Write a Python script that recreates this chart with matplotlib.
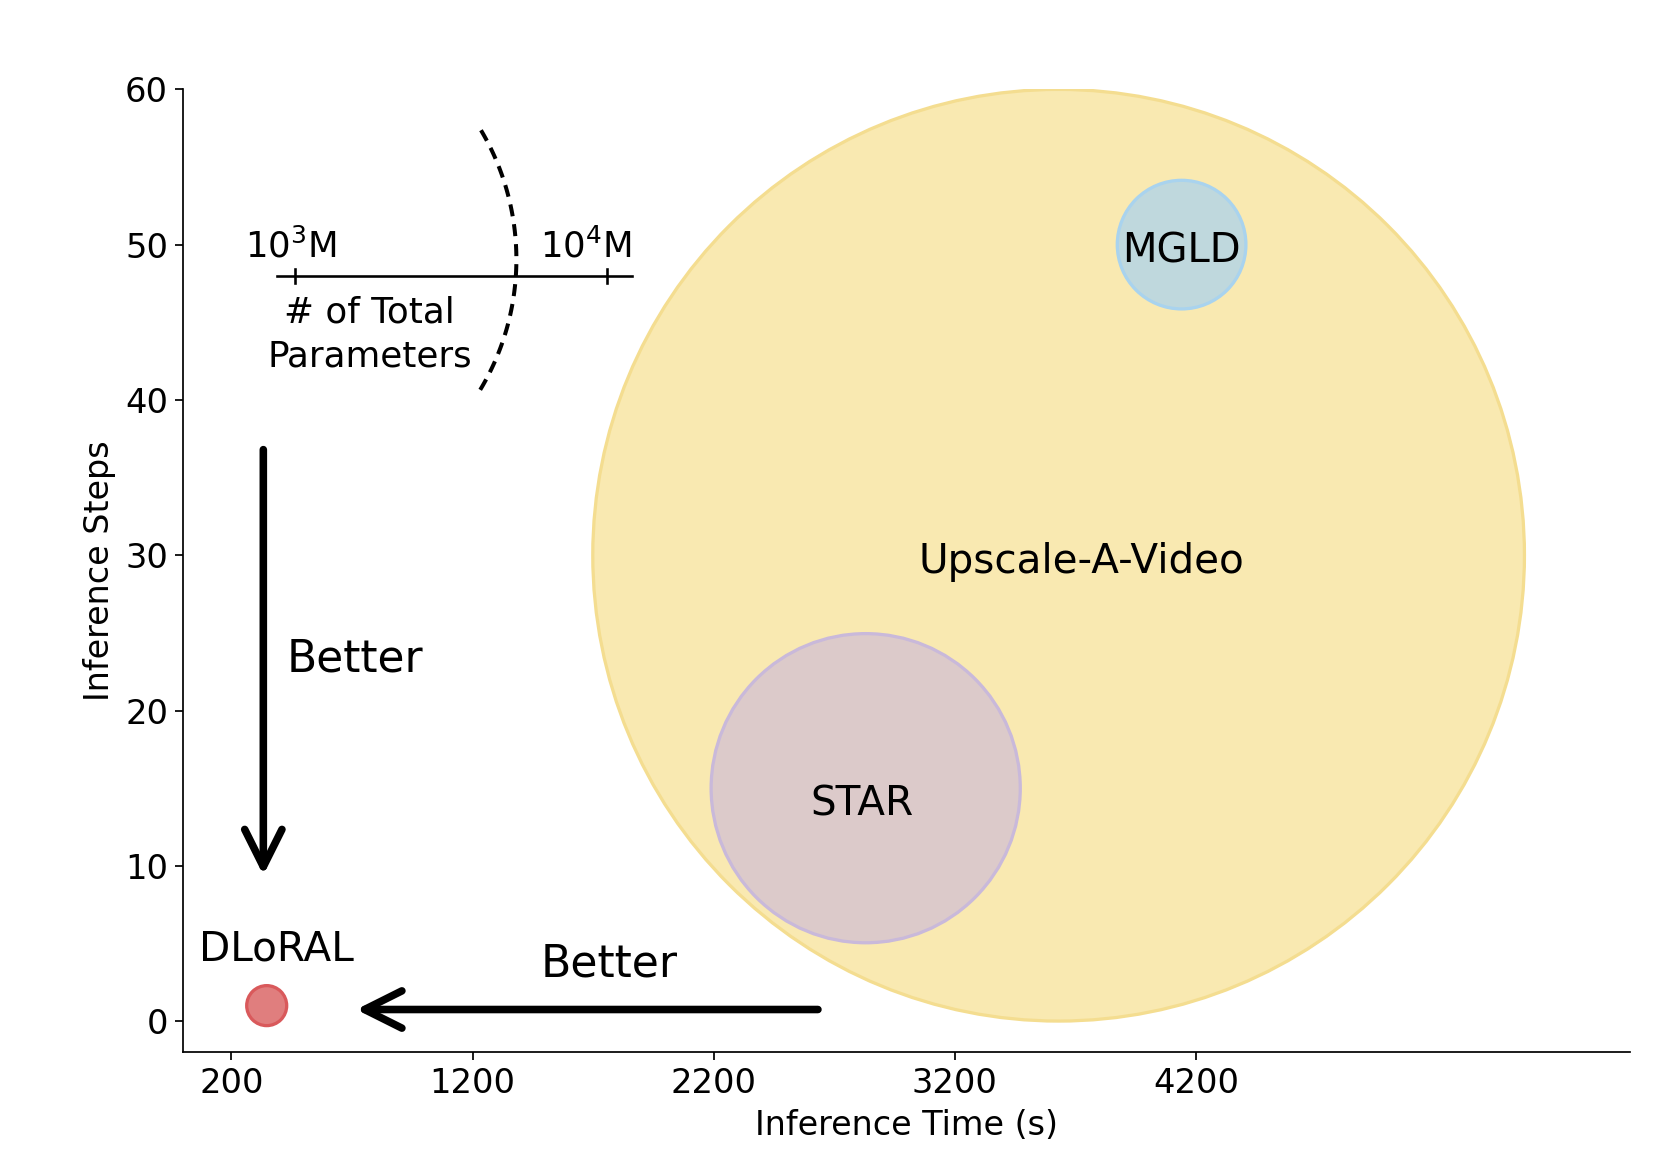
import numpy as np
import matplotlib
matplotlib.use('Agg')
import matplotlib.pyplot as plt
import matplotlib.transforms as mtransforms
from matplotlib.lines import Line2D

# data
methods = ['Upscale-A-Video', 'STAR', 'MGLD', 'DLoRAL']
inference_time = [3630, 2830, 4140, 346]      # seconds
inference_steps = [30, 15, 50, 1]
bubble_size = [184900, 20360, 3525, 341]       # marker area, ~ # of total parameters
face_colors = ['#F9E9B1', '#DCCACA', '#BFD8DD', '#E07E7E']
edge_colors = ['#F4DD90', '#C9B9DA', '#A9D3EE', '#D9595B']

x_ticks = [200, 1200, 2200, 3200, 4200]
y_ticks = [0, 10, 20, 30, 40, 50, 60]

fig = plt.figure(figsize=(1660 / 156, 1169 / 156), dpi=156)
ax = fig.add_axes([0.1104, 0.0999, 0.8716, 0.8237])

ax.scatter(inference_time, inference_steps, s=bubble_size, c=face_colors,
           edgecolors=edge_colors, linewidths=1.5, zorder=2)

# method names
ax.text(3723, 28.83, 'Upscale-A-Video', fontsize=18.7, ha='center', va='baseline', zorder=3)
ax.text(2814, 13.27, 'STAR', fontsize=18.7, ha='center', va='baseline', zorder=3)
ax.text(4140, 48.83, 'MGLD', fontsize=18.5, ha='center', va='baseline', zorder=3)
ax.text(386, 3.92, 'DLoRAL', fontsize=18.7, ha='center', va='baseline', zorder=3)

# "Better" arrows
arrow_kw = dict(arrowstyle='->', lw=3.5, color='black', mutation_scale=43,
                shrinkA=0, shrinkB=0)
ax.annotate('', xy=(332, 9.4), xytext=(332, 36.8), arrowprops=arrow_kw, zorder=4)
ax.annotate('', xy=(717, 0.75), xytext=(2632, 0.75), arrowprops=arrow_kw, zorder=4)
ax.text(428, 22.5, 'Better', fontsize=20.3, ha='left', va='baseline')
ax.text(1765, 2.86, 'Better', fontsize=20.4, ha='center', va='baseline')

# size legend: # of total parameters
ax.plot([388, 1862], [48, 48], color='black', lw=1.2)
for xt in [462, 1756]:
    ax.plot([xt, xt], [47.55, 48.45], color='black', lw=1.2)
ax.text(447, 49.2, r'$10^3$M', fontsize=16.4, ha='center', va='baseline')
ax.text(1670, 49.2, r'$10^4$M', fontsize=16.4, ha='center', va='baseline')
ax.text(772, 44.2, '# of Total\nParameters', fontsize=16.5, ha='center', va='center',
        multialignment='center', linespacing=1.35)

# dashed arc (in inches around a data point so it stays round)
theta = np.radians(np.linspace(-31, 31, 100))
r_in = 253.3 / 156
arc_trans = fig.dpi_scale_trans + mtransforms.ScaledTranslation(331, 49.05, ax.transData)
arc = Line2D(r_in * np.cos(theta), r_in * np.sin(theta), transform=arc_trans,
             color='black', lw=1.85, linestyle=(0, (3.0, 2.0)))
ax.add_line(arc)

ax.set_xlim(0, 6000)
ax.set_ylim(-2, 60)
ax.set_xticks(x_ticks)
ax.set_yticks(y_ticks)
ax.tick_params(labelsize=15.5)
ax.set_xlabel('Inference Time (s)', fontsize=15.4)
ax.set_ylabel('Inference Steps', fontsize=15.4)
ax.spines['top'].set_visible(False)
ax.spines['right'].set_visible(False)

plt.savefig('out.png', dpi=156)
